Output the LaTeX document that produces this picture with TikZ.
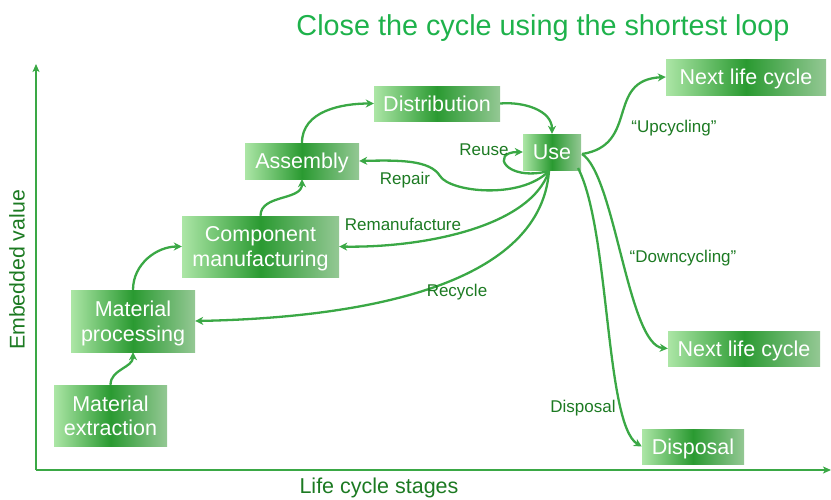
\documentclass[tikz,border=0pt]{standalone}
\usepackage{fontspec}
\setmainfont{Liberation Sans}
\usetikzlibrary{arrows.meta}
\definecolor{linegreen}{HTML}{3AA845}
\definecolor{labelgreen}{HTML}{1C7A22}
\definecolor{titlegreen}{HTML}{1EB24B}
\definecolor{boxlight}{HTML}{ACE6A6}
\definecolor{boxdark}{HTML}{2A9A31}
\definecolor{boxgrey}{HTML}{94C894}
\tikzset{
  stage/.style={rectangle, inner sep=0pt, text=white, align=center,
    text depth=0pt,
    left color=boxlight, right color=boxgrey, middle color=boxdark,
    font=\fontsize{21.5}{24.5}\selectfont},
  flow/.style={draw=linegreen, line width=2.3pt,
    -{Stealth[length=8pt,width=8pt,inset=2.5pt]}},
  axis/.style={draw=linegreen, line width=2pt,
    -{Stealth[length=8pt,width=7pt,inset=2pt]}},
  tag/.style={text=labelgreen, font=\fontsize{17}{19}\selectfont, inner sep=0pt},
}
\begin{document}
\begin{tikzpicture}[x=1pt,y=-1pt]
\useasboundingbox (0,0) rectangle (831,499);

% title
\node[text=titlegreen, font=\fontsize{28.8}{32}\selectfont] (title) at (543,28) {Close the cycle using the shortest loop};

% axes
\coordinate (origin) at (36,470);
\coordinate (ytop) at (36,64);
\coordinate (xend) at (831,470);
\draw[axis] (origin) -- (ytop);
\draw[axis] (origin) -- (xend);
\node[text=labelgreen, font=\fontsize{21.3}{24}\selectfont, rotate=90] (ylab) at (17,270) {Embedded value};
\node[text=labelgreen, font=\fontsize{21.5}{24}\selectfont] (xlab) at (379,488) {Life cycle stages};

% life cycle stages
\node[stage, minimum width=113pt, minimum height=61pt] (ext) at (110.5,415.5) {Material\\extraction};
\node[stage, minimum width=124pt, minimum height=62pt] (proc) at (133,321) {Material\\processing};
\node[stage, minimum width=157pt, minimum height=61pt] (comp) at (260.5,246.5) {Component\\manufacturing};
\node[stage, minimum width=114pt, minimum height=36pt] (asm) at (302,161) {Assembly};
\node[stage, minimum width=126pt, minimum height=35pt] (dist) at (437,103.5) {Distribution};
\node[stage, minimum width=58pt, minimum height=36pt] (use) at (552,152) {Use};
\node[stage, minimum width=160pt, minimum height=36pt] (next1) at (746,77) {Next life cycle};
\node[stage, minimum width=152pt, minimum height=35pt] (next2) at (744,348.5) {Next life cycle};
\node[stage, minimum width=102pt, minimum height=35pt] (disp) at (693,446.5) {Disposal};

% forward chain
\draw[flow] (ext.north) to[out=90,in=-90] (proc.south);
\draw[flow] (proc.north) to[out=90,in=180] (comp.west);
\draw[flow] (comp.north) to[out=90,in=-90] (asm.south);
\draw[flow] (asm.north) to[out=90,in=180] (dist.west);
\draw[flow] (dist.east) to[out=5,in=90] (use.north);

% return loops
\coordinate (ub) at (549,171);
\coordinate (ubr) at (578,168);
\coordinate (ue) at (582,154);
\coordinate (bend) at (440,176);
\draw[flow] (ub) .. controls (505,182) and (490,152) .. (use.west);
\draw[flow] (ub) .. controls (520,200) and (450,192) .. (bend)
  .. controls (430,160) and (400,160) .. (asm.east);
\draw[flow] (ub) .. controls (530,228) and (420,248) .. (comp.east);
\draw[flow] (ub) .. controls (540,290) and (350,318) .. (proc.east);

% onward paths
\draw[flow] (ue) .. controls (640,145) and (605,80) .. (next1.west);
\draw[flow] (ue) .. controls (615,175) and (628,345) .. (next2.west);
\draw[flow] (ubr) .. controls (610,230) and (605,425) .. (disp.west);

% connector labels
\node[tag] (reuse) at (484,150) {Reuse};
\node[tag] (repair) at (405,180) {Repair};
\node[tag] (reman) at (403,224) {Remanufacture};
\node[tag] (recycle) at (457,292) {Recycle};
\node[tag] (upc) at (674,128) {“Upcycling”};
\node[tag] (downc) at (683,258) {“Downcycling”};
\node[tag] (displab) at (583,408) {Disposal};
\end{tikzpicture}
\end{document}
